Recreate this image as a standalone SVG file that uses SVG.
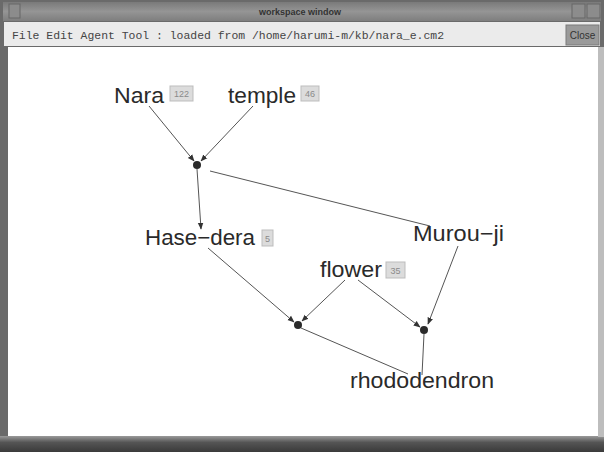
<svg xmlns="http://www.w3.org/2000/svg" width="604" height="452" viewBox="0 0 604 452">
  <defs>
    <marker id="arrow" viewBox="0 0 10 10" refX="9" refY="5" markerWidth="7" markerHeight="7" orient="auto" markerUnits="userSpaceOnUse">
      <path d="M0,1 L10,5 L0,9 z" fill="#333"/>
    </marker>
    <linearGradient id="titleGrad" x1="0" y1="0" x2="0" y2="1">
      <stop offset="0" stop-color="#7a7a7a"/>
      <stop offset="0.5" stop-color="#959595"/>
      <stop offset="1" stop-color="#7e7e7e"/>
    </linearGradient>
    <linearGradient id="bottomGrad" x1="0" y1="0" x2="0" y2="1">
      <stop offset="0" stop-color="#9a9a9a"/>
      <stop offset="0.4" stop-color="#555"/>
      <stop offset="1" stop-color="#3a3a3a"/>
    </linearGradient>
  </defs>
  <style>
    .label { font-family: "Liberation Sans", Arial, sans-serif; font-size: 22px; fill: #2a2a2a; }
    .badge { fill: #dcdcdc; stroke: #bdbdbd; stroke-width: 1; }
    .badgeText { font-family: "Liberation Sans", Arial, sans-serif; font-size: 9px; fill: #8a8a8a; text-anchor: middle; }
    .edge { stroke: #555; stroke-width: 1; fill: none; }
    .arrowed { marker-end: url(#arrow); }
    .junction { fill: #2a2a2a; }
    .menu { font-family: "Liberation Mono", "Courier New", monospace; font-size: 11px; fill: #444; }
  </style>

  <!-- window frame -->
  <rect x="0" y="0" width="604" height="452" fill="#6a6a6a"/>
  <rect x="3" y="2" width="598" height="19" fill="url(#titleGrad)"/>
  <rect x="9" y="4" width="11" height="14" fill="#8c8c8c" stroke="#666" stroke-width="1"/>
  <rect x="572" y="4" width="13" height="14" fill="#8c8c8c" stroke="#666" stroke-width="1"/>
  <rect x="587" y="4" width="13" height="14" fill="#8c8c8c" stroke="#666" stroke-width="1"/>
  <text x="300" y="15" font-family="Liberation Sans, Arial, sans-serif" font-size="9" font-weight="bold" fill="#333" text-anchor="middle">workspace window</text>

  <!-- menu bar -->
  <rect x="4" y="22" width="596" height="24" fill="#ebebeb"/>
  <text class="menu" x="12" y="39" textLength="432" lengthAdjust="spacingAndGlyphs">File Edit Agent Tool : loaded from /home/harumi-m/kb/nara_e.cm2</text>
  <rect x="566" y="25" width="33" height="20" fill="#9a9a9a" stroke="#7a7a7a" stroke-width="1"/>
  <text x="582.5" y="39" font-family="Liberation Sans, Arial, sans-serif" font-size="10" fill="#333" text-anchor="middle">Close</text>

  <!-- canvas -->
  <rect x="8" y="47" width="590" height="390" fill="#ffffff"/>
  <rect x="0" y="436" width="604" height="16" fill="url(#bottomGrad)"/>
  <rect x="598" y="47" width="6" height="390" fill="#bdbdbd"/>

  <!-- connectors -->
  <g id="connectors">
    <line class="edge arrowed" x1="149" y1="106" x2="194" y2="161"/>
    <line class="edge arrowed" x1="253" y1="106" x2="201" y2="161"/>
    <line class="edge arrowed" x1="197" y1="169" x2="201" y2="229"/>
    <line class="edge" x1="210" y1="171" x2="430" y2="226"/>
    <line class="edge arrowed" x1="208" y1="248" x2="294" y2="322"/>
    <line class="edge arrowed" x1="345" y1="280" x2="302" y2="321"/>
    <line class="edge arrowed" x1="358" y1="280" x2="420" y2="327"/>
    <line class="edge arrowed" x1="458" y1="246" x2="428" y2="324"/>
    <line class="edge" x1="301" y1="328" x2="408" y2="374"/>
    <line class="edge" x1="424" y1="334" x2="422" y2="375"/>
  </g>

  <!-- junction points -->
  <g id="junction1"><circle class="junction" cx="197" cy="165" r="4"/></g>
  <g id="junction2"><circle class="junction" cx="298" cy="325" r="4"/></g>
  <g id="junction3"><circle class="junction" cx="424" cy="330" r="4"/></g>

  <!-- nodes -->
  <g id="node-nara">
    <text class="label" x="114" y="103" textLength="50" lengthAdjust="spacingAndGlyphs">Nara</text>
    <rect class="badge" x="170" y="86" width="23" height="15"/>
    <text class="badgeText" x="181.5" y="97">122</text>
  </g>
  <g id="node-temple">
    <text class="label" x="228" y="103" textLength="68" lengthAdjust="spacingAndGlyphs">temple</text>
    <rect class="badge" x="301" y="86" width="18" height="15"/>
    <text class="badgeText" x="310" y="97">46</text>
  </g>
  <g id="node-hasedera">
    <text class="label" x="145" y="245" textLength="110" lengthAdjust="spacingAndGlyphs">Hase−dera</text>
    <rect class="badge" x="262" y="230" width="11" height="16"/>
    <text class="badgeText" x="267.5" y="242">5</text>
  </g>
  <g id="node-murouji">
    <text class="label" x="413" y="241" textLength="91" lengthAdjust="spacingAndGlyphs">Murou−ji</text>
  </g>
  <g id="node-flower">
    <text class="label" x="320" y="277" textLength="62" lengthAdjust="spacingAndGlyphs">flower</text>
    <rect class="badge" x="386" y="262" width="19" height="16"/>
    <text class="badgeText" x="395.5" y="274">35</text>
  </g>
  <g id="node-rhododendron">
    <text class="label" x="350" y="388" textLength="144" lengthAdjust="spacingAndGlyphs">rhododendron</text>
  </g>
</svg>
